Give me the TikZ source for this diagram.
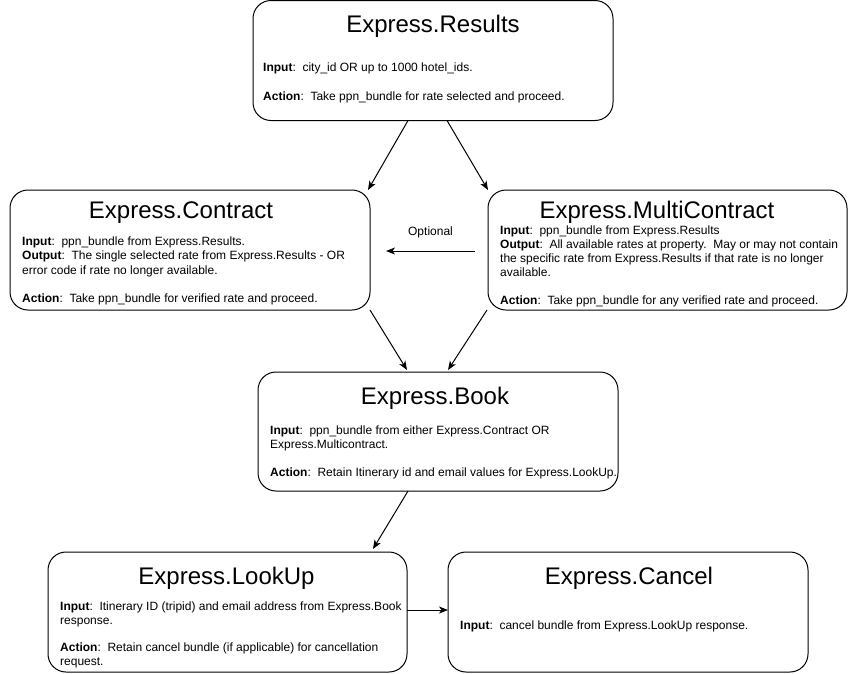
\documentclass[tikz,border=0pt]{standalone}
\usepackage{fontspec}
\setmainfont{Liberation Sans}
\usetikzlibrary{arrows.meta,calc}
\newcommand{\titlefont}{\fontsize{24}{28}\selectfont}
\newcommand{\bodyfont}{\fontsize{12}{14}\selectfont}
\tikzset{
  flowbox/.style={draw=black, line width=1pt, rounded corners=18pt, inner sep=0pt, outer sep=0pt, minimum width=360pt, minimum height=120pt},
  boxtitle/.style={anchor=center, inner sep=0pt, font=\titlefont},
  bodyline/.style={anchor=base west, inner sep=0pt, font=\bodyfont},
  flowarrow/.style={draw=black, line width=1pt, -{Stealth[length=9pt,width=7pt,inset=2.5pt]}},
}
\begin{document}
\begin{tikzpicture}[x=1pt,y=-1pt]
\useasboundingbox (0,0) rectangle (848,673);
% boxes
\node[flowbox] (results) at (433,60.5) {};
\node[flowbox] (contract) at (190,250) {};
\node[flowbox, minimum width=359pt] (multi) at (667.5,250) {};
\node[flowbox, minimum height=119pt] (book) at (438,431.5) {};
\node[flowbox, minimum width=359pt] (lookup) at (227.5,612) {};
\node[flowbox] (cancel) at (628,612) {};
% Results
\node[boxtitle] (t1) at (433,26) {Express.Results};
\node[bodyline] (r1) at (263,71) {\textbf{Input}:\ \ city\_id OR up to 1000 hotel\_ids.};
\node[bodyline] (r2) at (263,100) {\textbf{Action}:\ \ Take ppn\_bundle for rate selected and proceed.};
% Contract
\node[boxtitle] (t2) at (181,213) {Express.Contract};
\node[bodyline] (c1) at (22,245) {\textbf{Input}:\ \ ppn\_bundle from Express.Results.};
\node[bodyline] (c2) at (22,259) {\textbf{Output}:\ \ The single selected rate from Express.Results - OR};
\node[bodyline] (c3) at (22,274) {error code if rate no longer available.};
\node[bodyline] (c4) at (22,302) {\textbf{Action}:\ \ Take ppn\_bundle for verified rate and proceed.};
% MultiContract
\node[boxtitle] (t3) at (657,212) {Express.MultiContract};
\node[bodyline] (m1) at (500,234) {\textbf{Input}:\ \ ppn\_bundle from Express.Results};
\node[bodyline] (m2) at (500,248) {\textbf{Output}:\ \ All available rates at property.\ \ May or may not contain};
\node[bodyline] (m3) at (500,262) {the specific rate from Express.Results if that rate is no longer};
\node[bodyline] (m4) at (500,276) {available.};
\node[bodyline] (m5) at (500,304) {\textbf{Action}:\ \ Take ppn\_bundle for any verified rate and proceed.};
% Book
\node[boxtitle] (t4) at (435,398) {Express.Book};
\node[bodyline] (b1) at (270,434) {\textbf{Input}:\ \ ppn\_bundle from either Express.Contract OR};
\node[bodyline] (b2) at (270,448) {Express.Multicontract.};
\node[bodyline] (b3) at (270,476) {\textbf{Action}:\ \ Retain Itinerary id and email values for Express.LookUp.};
% LookUp
\node[boxtitle] (t5) at (226.5,578) {Express.LookUp};
\node[bodyline] (l1) at (60,610) {\textbf{Input}:\ \ Itinerary ID (tripid) and email address from Express.Book};
\node[bodyline] (l2) at (60,624) {response.};
\node[bodyline] (l3) at (60,651) {\textbf{Action}:\ \ Retain cancel bundle (if applicable) for cancellation};
\node[bodyline] (l4) at (60,665) {request.};
% Cancel
\node[boxtitle] (t6) at (629,578) {Express.Cancel};
\node[bodyline] (x1) at (460,629) {\textbf{Input}:\ \ cancel bundle from Express.LookUp response.};
% connectors
\draw[flowarrow] ($(results.south)+(-25,0)$) -- ($(contract.north)+(178,0)$);
\draw[flowarrow] ($(results.south)+(14,0)$) -- (multi.north west);
\draw[flowarrow] ($(multi.west)+(-13,1)$) -- node[above=13pt, inner sep=0pt, font=\bodyfont] (opt) {Optional} ($(contract.east)+(16,1)$);
\draw[flowarrow] (contract.south east) -- ($(book.north)+(-31,-2)$);
\draw[flowarrow] ($(multi.south west)+(-1,0)$) -- ($(book.north)+(10,-2)$);
\draw[flowarrow] ($(book.south)+(-30,0)$) -- ($(lookup.north east)+(-34,-3)$);
\draw[flowarrow] ($(lookup.east)+(0,-2)$) -- ($(cancel.west)+(0,-2)$);
\end{tikzpicture}
\end{document}
